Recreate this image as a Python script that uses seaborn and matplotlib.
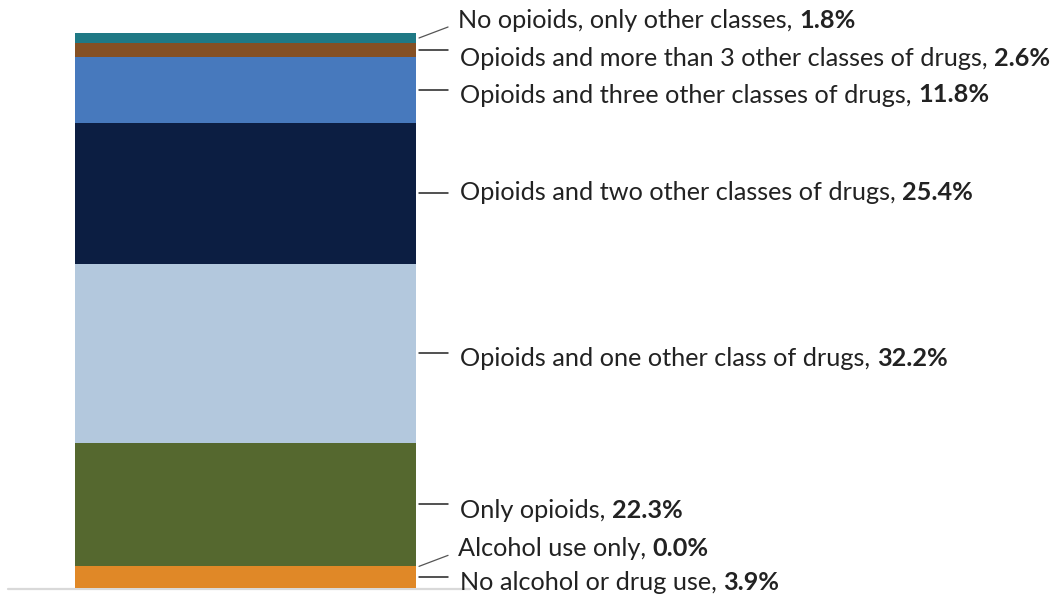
import matplotlib
matplotlib.use('Agg')
import matplotlib.pyplot as plt
import seaborn as sns

# Data (bottom to top)
categories = ['No alcohol or drug use', 'Alcohol use only', 'Only opioids',
              'Opioids and one other class of drugs', 'Opioids and two other classes of drugs',
              'Opioids and three other classes of drugs', 'Opioids and more than 3 other classes of drugs',
              'No opioids, only other classes']
shares = [3.9, 0.0, 22.3, 32.2, 25.4, 11.8, 2.6, 1.8]
colors = ['#e08827', '#e08827', '#55682f', '#b3c8dd', '#0c1e42', '#4779bd', '#855024', '#1f7985']

sns.set_style('white')
plt.rcParams['font.family'] = ['Lato', 'DejaVu Sans']

fig = plt.figure(figsize=(10.62, 6.0), dpi=100)
ax = fig.add_axes([75 / 1062, 12 / 600, 341 / 1062, 555 / 600])

bottom = 0
bottoms = []
for val, col in zip(shares, colors):
    bottoms.append(bottom)
    if val > 0:
        sns.barplot(x=[0], y=[val], bottom=bottom, color=col, width=1.0,
                    saturation=1, ax=ax, linewidth=0)
    bottom += val

ax.set_xlim(-0.5, 0.5)
ax.set_ylim(0, 100)
ax.axis('off')

px = 100 / 555  # data units per pixel vertically
# label positions in pixels above the bar bottom (text centre)
label_y_px = [5, 40, 78, 230, 396, 493, 530, 568]
line_x0, line_x1, text_x = 1.0088, 1.094, 1.129

for i, (cat, val) in enumerate(zip(categories, shares)):
    mid = bottoms[i] + val / 2
    if i == 1 or i == 7:
        ly0 = mid
        ly1 = mid + 11 * px
        tx = 1.123
        lc, lw = '#555555', 0.9
    else:
        ly0 = ly1 = mid
        tx = text_x
        lc, lw = '#222222', 1.1
    ax.plot([line_x0, line_x1], [ly0, ly1], color=lc, lw=lw, clip_on=False,
            transform=ax.get_yaxis_transform())
    ty = label_y_px[i] * px
    t = ax.text(tx, ty, cat + ', ', transform=ax.get_yaxis_transform(),
                ha='left', va='center', fontsize=18.2, color='#222222')
    ax.annotate(f'{val:.1f}%', xy=(1, 0.5), xycoords=t, ha='left', va='center',
                fontsize=18.2, fontweight='bold', color='#222222')

# baseline
ax.plot([-0.196, 1.158], [-0.1, -0.1], color='#d9d9d9', lw=1.6, clip_on=False,
        transform=ax.get_yaxis_transform(), zorder=0)

fig.savefig('out.png', dpi=100)
